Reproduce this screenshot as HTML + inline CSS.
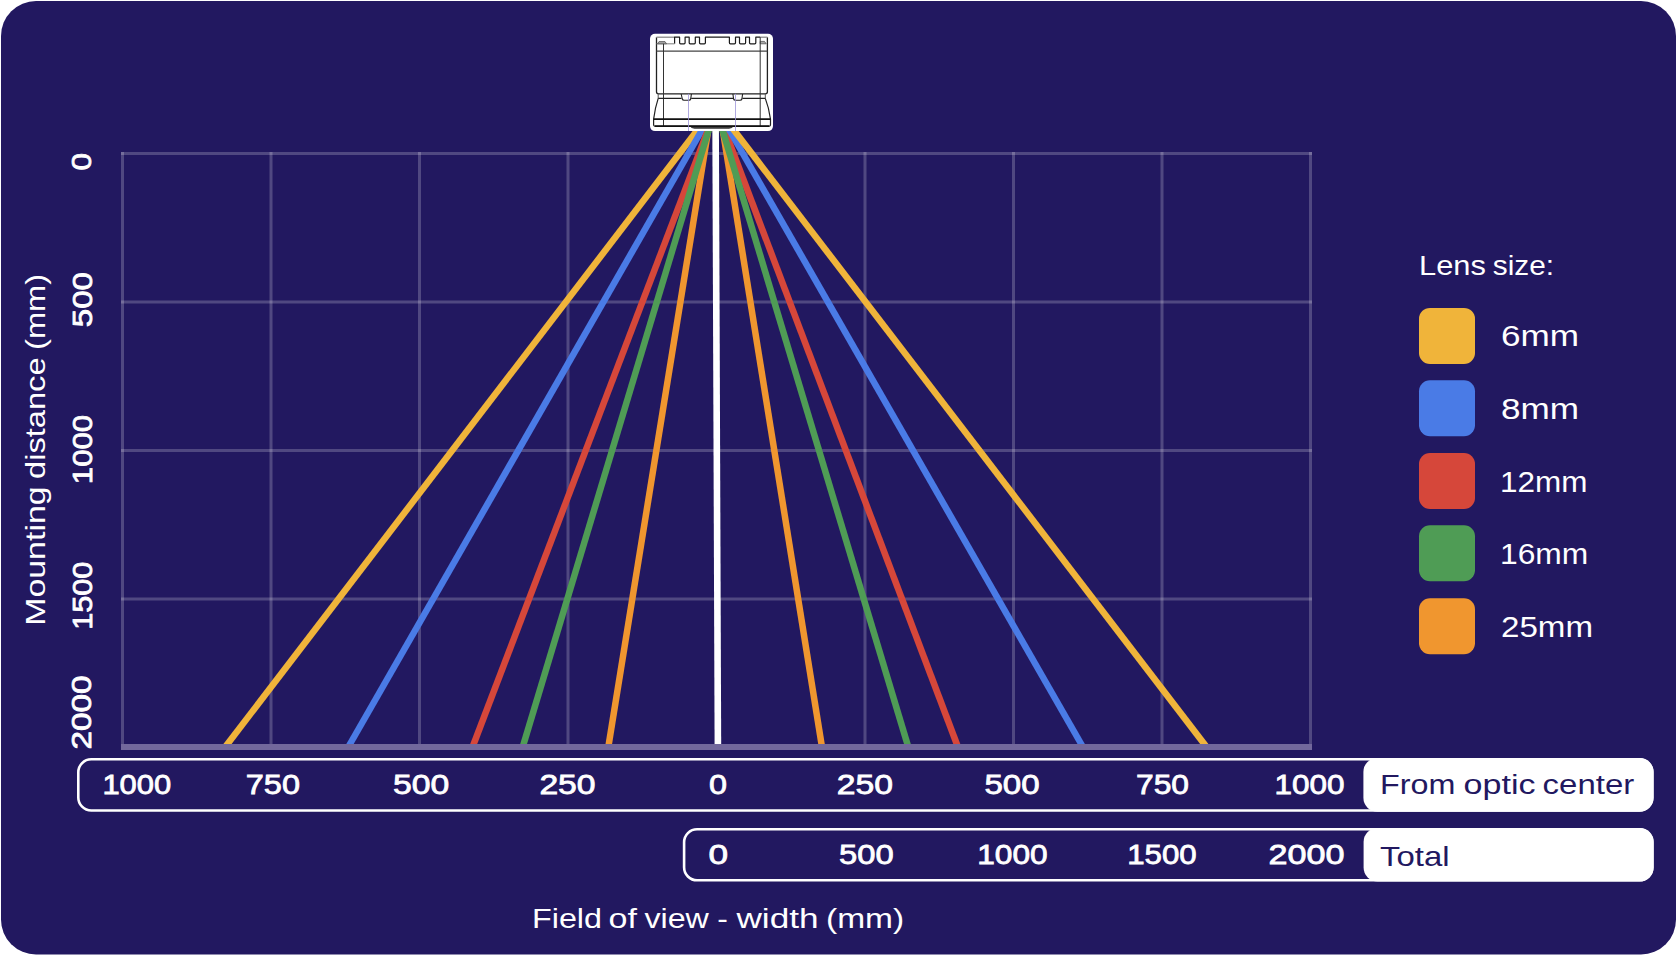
<!DOCTYPE html>
<html><head><meta charset="utf-8">
<style>
html,body{margin:0;padding:0;background:#ffffff;width:1678px;height:957px;overflow:hidden;}
svg{display:block;}
text{font-family:"Liberation Sans",sans-serif;}
</style></head><body>
<svg width="1678" height="957" viewBox="0 0 1678 957">
<rect x="1" y="1" width="1675" height="953.5" rx="35" ry="35" fill="#221860"/>
<line x1="122.5" y1="152.0" x2="122.5" y2="744" stroke="rgba(255,255,255,0.21)" stroke-width="3"/>
<line x1="271.0" y1="152.0" x2="271.0" y2="744" stroke="rgba(255,255,255,0.21)" stroke-width="3"/>
<line x1="419.5" y1="152.0" x2="419.5" y2="744" stroke="rgba(255,255,255,0.21)" stroke-width="3"/>
<line x1="568.0" y1="152.0" x2="568.0" y2="744" stroke="rgba(255,255,255,0.21)" stroke-width="3"/>
<line x1="716.5" y1="152.0" x2="716.5" y2="744" stroke="rgba(255,255,255,0.21)" stroke-width="3"/>
<line x1="865.0" y1="152.0" x2="865.0" y2="744" stroke="rgba(255,255,255,0.21)" stroke-width="3"/>
<line x1="1013.5" y1="152.0" x2="1013.5" y2="744" stroke="rgba(255,255,255,0.21)" stroke-width="3"/>
<line x1="1162.0" y1="152.0" x2="1162.0" y2="744" stroke="rgba(255,255,255,0.21)" stroke-width="3"/>
<line x1="1310.5" y1="152.0" x2="1310.5" y2="744" stroke="rgba(255,255,255,0.21)" stroke-width="3"/>
<line x1="121.0" y1="153.5" x2="1312.0" y2="153.5" stroke="rgba(255,255,255,0.21)" stroke-width="3"/>
<line x1="121.0" y1="302.0" x2="1312.0" y2="302.0" stroke="rgba(255,255,255,0.21)" stroke-width="3"/>
<line x1="121.0" y1="450.5" x2="1312.0" y2="450.5" stroke="rgba(255,255,255,0.21)" stroke-width="3"/>
<line x1="121.0" y1="599.0" x2="1312.0" y2="599.0" stroke="rgba(255,255,255,0.21)" stroke-width="3"/>
<line x1="709.89" y1="120" x2="608.48" y2="746" stroke="#f0962f" stroke-width="6.5"/>
<line x1="705.11" y1="120" x2="225.97" y2="746" stroke="#f0b43a" stroke-width="6.5"/>
<line x1="707.68" y1="120" x2="348.85" y2="746" stroke="#4a7be6" stroke-width="6.5"/>
<line x1="711.76" y1="120" x2="472.94" y2="746" stroke="#d6473a" stroke-width="6.5"/>
<line x1="711.67" y1="120" x2="523.00" y2="746" stroke="#4f9c55" stroke-width="6.5"/>
<line x1="721.16" y1="120" x2="821.82" y2="746" stroke="#f0962f" stroke-width="6.5"/>
<line x1="720.93" y1="120" x2="957.56" y2="746" stroke="#d6473a" stroke-width="6.5"/>
<line x1="719.51" y1="120" x2="908.00" y2="746" stroke="#4f9c55" stroke-width="6.5"/>
<line x1="723.65" y1="120" x2="1082.35" y2="746" stroke="#4a7be6" stroke-width="6.5"/>
<line x1="726.19" y1="120" x2="1205.83" y2="746" stroke="#f0b43a" stroke-width="6.5"/>
<line x1="715.6" y1="120" x2="717.9" y2="744" stroke="#ffffff" stroke-width="6.6"/>
<rect x="121" y="744" width="1191" height="6" fill="#72689c"/>
<rect x="650" y="33.7" width="123" height="97.4" rx="5" fill="#ffffff"/>
<g fill="none" stroke-linejoin="round">
<path d="M656.5,37.2 V91.8 Q656.5,93.8 658.5,93.8 H765.4 Q767.4,93.8 767.4,91.8 V37.2" stroke="#222" stroke-width="1.3"/>
<path d="M656.5,37.2 H674.6 M760,37.2 H767.4" stroke="#9a9a9a" stroke-width="1.4"/>
<path d="M674.6,43.8 V37.2 H679.6 V42.8 Q679.6,43.8 680.6,43.8 H684.1 Q685.1,43.8 685.1,42.8 V37.2 H689.2 V42.8 Q689.2,43.8 690.2,43.8 H694.3 Q695.3,43.8 695.3,42.8 V37.2 H699.5 V42.8 Q699.5,43.8 700.5,43.8 H704.4 Q705.4,43.8 705.4,42.8 V37.2 H729.4 V42.8 Q729.4,43.8 730.4,43.8 H734.5 Q735.5,43.8 735.5,42.8 V37.2 H739.5 V42.8 Q739.5,43.8 740.5,43.8 H744.6 Q745.6,43.8 745.6,42.8 V37.2 H749.5 V42.8 Q749.5,43.8 750.5,43.8 H754.8 Q755.8,43.8 755.8,42.8 V37.2 H760" stroke="#1a1a1a" stroke-width="1.2"/>
<path d="M656.5,43.8 H674.6" stroke="#888" stroke-width="1.1"/>
<path d="M657.5,43.8 L659,41.6 H665 L666.5,43.8 Z M760.2,43.8 V41.4 H764.5 L766.2,43.8 Z" fill="#a8a8a8" stroke="#555" stroke-width="0.8"/>
<path d="M656.5,51.2 H767.4" stroke="#444" stroke-width="1.2"/>
<path d="M663.5,43.8 V126.5 M760.2,37.2 V126.5" stroke="#333" stroke-width="1"/>
<path d="M658.2,93.8 V98.4 M765.3,93.8 V98.4" stroke="#555" stroke-width="1"/>
<path d="M658.2,98.4 H681.6 M691.2,98.4 H733.2 M742.4,98.4 H765.3" stroke="#222" stroke-width="1.1"/>
<path d="M681.2,94 L682.3,99 Q682.6,100.2 684,100.2 H689 Q690.4,100.2 690.7,99 L691.4,94 M732.9,94 L733.6,99 Q733.9,100.2 735.3,100.2 H740.2 Q741.6,100.2 741.9,99 L742.6,94" stroke="#222" stroke-width="1.1"/>
<path d="M658.2,98.4 Q655,108 653.6,119.1 V124.5 Q653.6,126.3 655.6,126.3 H768.5 Q770.5,126.3 770.5,124.5 V119.1 Q769,108 765.3,98.4" stroke="#222" stroke-width="1.2"/>
<path d="M653.6,119.1 H770.5" stroke="#111" stroke-width="1.6"/>
<path d="M655,126.2 H769" stroke="#111" stroke-width="1.7"/>
<defs><linearGradient id="lg" x1="0" y1="0" x2="0" y2="1"><stop offset="0" stop-color="#000"/><stop offset="1" stop-color="#777"/></linearGradient></defs><path d="M689.8,126 Q691.5,129 694.5,129 H729 Q732,129 733.7,126 Z" fill="url(#lg)"/>
<path d="M688.5,93.8 V131 M735.5,93.8 V131" stroke="#9d94d8" stroke-width="0.8"/>
</g>


<rect x="78.3" y="759.3" width="1574" height="51.2" rx="13" fill="none" stroke="#fff" stroke-width="2.6"/>
<rect x="1363.4" y="758" width="290.2" height="53.8" rx="14" fill="#fff"/>
<rect x="684.1" y="829.3" width="968.2" height="51" rx="13" fill="none" stroke="#fff" stroke-width="2.6"/>
<rect x="1363.6" y="828" width="290.1" height="53.6" rx="14" fill="#fff"/>

<rect x="1419" y="307.9" width="56" height="56" rx="11" fill="#f0b43a"/>
<rect x="1419" y="380.3" width="56" height="56" rx="11" fill="#4a7be6"/>
<rect x="1419" y="453" width="56" height="56" rx="11" fill="#d6473a"/>
<rect x="1419" y="525.3" width="56" height="56" rx="11" fill="#4f9c55"/>
<rect x="1419" y="598.2" width="56" height="56" rx="11" fill="#f0962f"/>
<text transform="translate(91.20,170.40) rotate(-90)" font-size="28.3" fill="#fff" stroke="#fff" stroke-width="0.8" textLength="17.60" lengthAdjust="spacingAndGlyphs">0</text>
<text transform="translate(92.20,327.20) rotate(-90)" font-size="28.3" fill="#fff" stroke="#fff" stroke-width="0.8" textLength="55.00" lengthAdjust="spacingAndGlyphs">500</text>
<text transform="translate(92.20,484.20) rotate(-90)" font-size="28.3" fill="#fff" stroke="#fff" stroke-width="0.8" textLength="69.40" lengthAdjust="spacingAndGlyphs">1000</text>
<text transform="translate(92.20,629.80) rotate(-90)" font-size="28.3" fill="#fff" stroke="#fff" stroke-width="0.8" textLength="68.20" lengthAdjust="spacingAndGlyphs">1500</text>
<text transform="translate(91.20,749.60) rotate(-90)" font-size="28.3" fill="#fff" stroke="#fff" stroke-width="0.8" textLength="74.00" lengthAdjust="spacingAndGlyphs">2000</text>
<text transform="translate(45.40,625.80) rotate(-90)" font-size="28" fill="#fff" textLength="139.40" lengthAdjust="spacingAndGlyphs">Mounting</text>
<text transform="translate(45.40,479.00) rotate(-90)" font-size="28" fill="#fff" textLength="121.60" lengthAdjust="spacingAndGlyphs">distance</text>
<text transform="translate(45.40,350.00) rotate(-90)" font-size="28" fill="#fff" textLength="76.20" lengthAdjust="spacingAndGlyphs">(mm)</text>
<text x="102.40" y="794.40" font-size="28.3" fill="#fff" stroke="#fff" stroke-width="0.8" textLength="68.80" lengthAdjust="spacingAndGlyphs">1000</text>
<text x="245.80" y="794.40" font-size="28.3" fill="#fff" stroke="#fff" stroke-width="0.8" textLength="54.20" lengthAdjust="spacingAndGlyphs">750</text>
<text x="393.00" y="794.40" font-size="28.3" fill="#fff" stroke="#fff" stroke-width="0.8" textLength="56.20" lengthAdjust="spacingAndGlyphs">500</text>
<text x="539.40" y="794.40" font-size="28.3" fill="#fff" stroke="#fff" stroke-width="0.8" textLength="56.20" lengthAdjust="spacingAndGlyphs">250</text>
<text x="709.00" y="794.40" font-size="28.3" fill="#fff" stroke="#fff" stroke-width="0.8" textLength="18.00" lengthAdjust="spacingAndGlyphs">0</text>
<text x="836.80" y="794.40" font-size="28.3" fill="#fff" stroke="#fff" stroke-width="0.8" textLength="56.20" lengthAdjust="spacingAndGlyphs">250</text>
<text x="984.40" y="794.40" font-size="28.3" fill="#fff" stroke="#fff" stroke-width="0.8" textLength="55.20" lengthAdjust="spacingAndGlyphs">500</text>
<text x="1136.00" y="794.40" font-size="28.3" fill="#fff" stroke="#fff" stroke-width="0.8" textLength="53.00" lengthAdjust="spacingAndGlyphs">750</text>
<text x="1274.60" y="794.40" font-size="28.3" fill="#fff" stroke="#fff" stroke-width="0.8" textLength="70.00" lengthAdjust="spacingAndGlyphs">1000</text>
<text x="708.40" y="864.40" font-size="28.3" fill="#fff" stroke="#fff" stroke-width="0.8" textLength="19.60" lengthAdjust="spacingAndGlyphs">0</text>
<text x="839.00" y="864.40" font-size="28.3" fill="#fff" stroke="#fff" stroke-width="0.8" textLength="54.60" lengthAdjust="spacingAndGlyphs">500</text>
<text x="977.20" y="864.40" font-size="28.3" fill="#fff" stroke="#fff" stroke-width="0.8" textLength="70.40" lengthAdjust="spacingAndGlyphs">1000</text>
<text x="1127.20" y="864.40" font-size="28.3" fill="#fff" stroke="#fff" stroke-width="0.8" textLength="69.40" lengthAdjust="spacingAndGlyphs">1500</text>
<text x="1268.60" y="864.40" font-size="28.3" fill="#fff" stroke="#fff" stroke-width="0.8" textLength="76.00" lengthAdjust="spacingAndGlyphs">2000</text>
<text x="1380.00" y="793.70" font-size="27.3" fill="#221860" textLength="75.40" lengthAdjust="spacingAndGlyphs">From</text>
<text x="1463.60" y="793.70" font-size="27.3" fill="#221860" textLength="72.00" lengthAdjust="spacingAndGlyphs">optic</text>
<text x="1542.60" y="793.70" font-size="27.3" fill="#221860" textLength="91.60" lengthAdjust="spacingAndGlyphs">center</text>
<text x="1380.00" y="865.70" font-size="27.3" fill="#221860" textLength="69.60" lengthAdjust="spacingAndGlyphs">Total</text>
<text x="532.00" y="927.70" font-size="27.5" fill="#fff" textLength="70.00" lengthAdjust="spacingAndGlyphs">Field</text>
<text x="608.60" y="927.70" font-size="27.5" fill="#fff" textLength="28.40" lengthAdjust="spacingAndGlyphs">of</text>
<text x="644.40" y="927.70" font-size="27.5" fill="#fff" textLength="64.40" lengthAdjust="spacingAndGlyphs">view</text>
<text x="717.20" y="927.70" font-size="27.5" fill="#fff" textLength="10.60" lengthAdjust="spacingAndGlyphs">-</text>
<text x="736.40" y="927.70" font-size="27.5" fill="#fff" textLength="82.20" lengthAdjust="spacingAndGlyphs">width</text>
<text x="826.00" y="927.70" font-size="27.5" fill="#fff" textLength="78.20" lengthAdjust="spacingAndGlyphs">(mm)</text>
<text x="1419.00" y="274.80" font-size="28" fill="#fff" textLength="66.80" lengthAdjust="spacingAndGlyphs">Lens</text>
<text x="1492.80" y="274.80" font-size="28" fill="#fff" textLength="61.20" lengthAdjust="spacingAndGlyphs">size:</text>
<text x="1501.00" y="346.30" font-size="28.8" fill="#fff" textLength="78.00" lengthAdjust="spacingAndGlyphs">6mm</text>
<text x="1501.00" y="419.40" font-size="28.8" fill="#fff" textLength="78.00" lengthAdjust="spacingAndGlyphs">8mm</text>
<text x="1500.00" y="492.30" font-size="28.8" fill="#fff" textLength="87.40" lengthAdjust="spacingAndGlyphs">12mm</text>
<text x="1500.00" y="563.90" font-size="28.8" fill="#fff" textLength="88.20" lengthAdjust="spacingAndGlyphs">16mm</text>
<text x="1501.00" y="637.30" font-size="28.8" fill="#fff" textLength="92.00" lengthAdjust="spacingAndGlyphs">25mm</text>
</svg>
</body></html>
